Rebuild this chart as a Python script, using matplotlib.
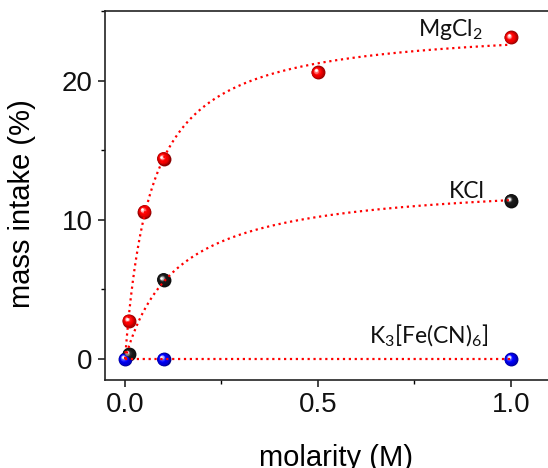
import numpy as np
import matplotlib
matplotlib.use("Agg")
import matplotlib.pyplot as plt
from matplotlib.colors import to_rgb
from matplotlib.transforms import offset_copy
from matplotlib.ticker import MultipleLocator

# ---- data ----
mgcl2_x = [0.01, 0.05, 0.1, 0.5, 1.0]
mgcl2_y = [2.75, 10.6, 14.4, 20.6, 23.1]
kcl_x = [0.01, 0.1, 1.0]
kcl_y = [0.34, 5.71, 11.38]
kfe_x = [0.0, 0.1, 1.0]
kfe_y = [0.0, 0.0, 0.0]
series_labels = ["MgCl$_2$", "KCl", "K$_3$[Fe(CN)$_6$]"]
x_ticks = [0.0, 0.5, 1.0]
y_ticks = [0, 10, 20]

plt.rcParams['mathtext.fontset'] = 'custom'
plt.rcParams['mathtext.rm'] = 'Lato'
plt.rcParams['mathtext.it'] = 'Lato:italic'

W, H = 548, 468
fig = plt.figure(figsize=(W / 100, H / 100), dpi=100)
x0_px, x1_px = 125.0, 510.7
ppu = (x1_px - x0_px) / 1.0
xmin, xmax = -0.052, 1.12
left_px = x0_px + xmin * ppu
right_px = x0_px + xmax * ppu
ax = fig.add_axes([left_px / W, (H - 380) / H, (right_px - left_px) / W, (380 - 11) / H])
ax.set_xlim(xmin, xmax)
ax.set_ylim(-1.5, 25)


def langmuir_fit(x, y):
    x = np.asarray(x, float)
    y = np.asarray(y, float)
    best = None
    for b in np.linspace(0.005, 1.0, 2000):
        f = x / (b + x)
        a = np.dot(f, y) / np.dot(f, f)
        sse = np.sum((a * f - y) ** 2)
        if best is None or sse < best[0]:
            best = (sse, a, b)
    return best[1], best[2]


def sphere(xs, ys, color, ms=10, n=12):
    base = np.array(to_rgb(color))
    dark = base * 0.55
    white = np.ones(3)
    for k in range(n):
        t = k / (n - 1)
        if t < 0.55:
            c = dark + (base - dark) * (t / 0.55) ** 0.6
        else:
            s = ((t - 0.55) / 0.45) ** 1.6
            c = base + (white - base) * s
        size = ms * (1 - 0.82 * t)
        tr = offset_copy(ax.transData, fig=fig, x=-1.5 * t, y=1.5 * t, units='points')
        ax.plot(xs, ys, 'o', ms=size, color=np.clip(c, 0, 1), mew=0,
                transform=tr, zorder=3 + k * 0.01, clip_on=False)


xx = np.linspace(0, 1.0, 400)
for sx, sy in [(mgcl2_x, mgcl2_y), (kcl_x, kcl_y), (kfe_x, kfe_y)]:
    a, b = langmuir_fit(sx, sy)
    ax.plot(xx, a * xx / (b + xx), ':', color='#ff0000', lw=1.6, zorder=5)

sphere(mgcl2_x, mgcl2_y, '#ff0000')
sphere(kcl_x, kcl_y, '#1a1a1a')
sphere(kfe_x, kfe_y, '#0000ff')

lab_font = dict(family='Lato', fontsize=16.5, color='#111111')
ax.text(0.759, 23.2, series_labels[0], ha='left', va='baseline', **lab_font)
ax.text(0.839, 11.6, series_labels[1], ha='left', va='baseline', **lab_font)
ax.text(0.632, 1.15, series_labels[2], ha='left', va='baseline', **lab_font)

ax.set_xticks(x_ticks)
ax.set_xticklabels(["0.0", "0.5", "1.0"])
ax.set_yticks(y_ticks)
ax.xaxis.set_minor_locator(MultipleLocator(0.25))
ax.yaxis.set_minor_locator(MultipleLocator(5))
ax.tick_params(which='major', direction='out', length=5, width=1.1, pad=4,
               labelsize=20, colors='#111111')
ax.tick_params(which='minor', direction='out', length=3, width=1.0)
for lab in ax.get_xticklabels() + ax.get_yticklabels():
    lab.set_family('Liberation Sans')

for side in ['left', 'bottom', 'top']:
    ax.spines[side].set_linewidth(1.2)
    ax.spines[side].set_color('#222222')
ax.spines['right'].set_visible(False)

ax.set_xlabel("molarity (M)", fontsize=21, family='Liberation Sans')
ax.set_ylabel("mass intake (%)", fontsize=21, family='Liberation Sans')
ax.xaxis.set_label_coords((336 - left_px) / (right_px - left_px), (380 - 444) / 369)
ax.yaxis.set_label_coords((36 - left_px) / (right_px - left_px), (380 - 203.5) / 369)

fig.savefig("out.png", dpi=100)
